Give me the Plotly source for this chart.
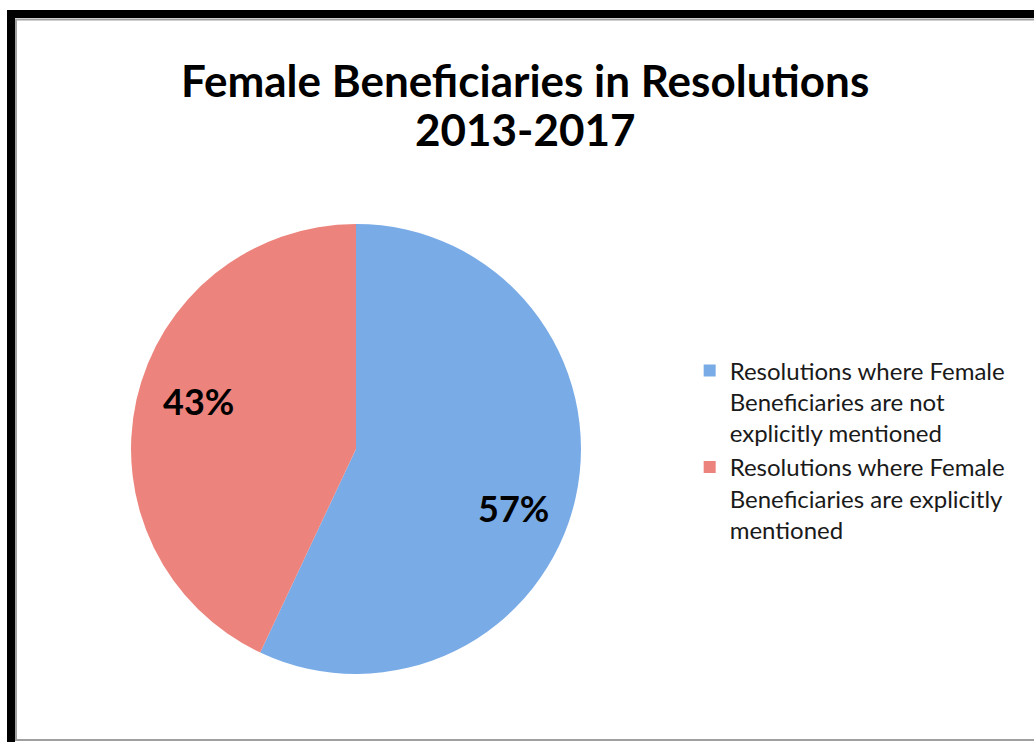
import plotly.graph_objects as go

# Share of resolutions, 2013-2017
categories = [
    "Resolutions where Female<br>Beneficiaries are not<br>explicitly mentioned",
    "Resolutions where Female<br>Beneficiaries are explicitly<br>mentioned",
]
shares = [57, 43]
slice_colors = ["#79abe7", "#ec837c"]
title_lines = ["Female Beneficiaries in Resolutions", "2013-2017"]

W, H = 1034, 742

fig = go.Figure()
fig.add_trace(go.Pie(
    labels=categories,
    values=shares,
    sort=False,
    direction="clockwise",
    rotation=0,
    marker=dict(colors=slice_colors, line=dict(width=0)),
    textinfo="none",
    hoverinfo="label+percent",
    domain=dict(x=[0.1267, 0.5619], y=[0.0918, 0.6982]),
    showlegend=True,
))

# Percentage labels placed inside each slice
label_pos = [(513, 508), (198, 401)]
for share, (px, py) in zip(shares, label_pos):
    fig.add_annotation(
        text=f"{share}%", x=px / W, y=1 - py / H, xref="paper", yref="paper",
        xanchor="center", yanchor="middle", showarrow=False,
        font=dict(family="Lato", size=36, color="black", weight="bold"),
    )

# Outer black frame and thin grey inner border
fig.add_shape(type="rect", xref="paper", yref="paper",
              x0=11 / W, x1=1.05, y0=-0.05, y1=1 - 14 / H,
              line=dict(color="black", width=8), fillcolor="rgba(0,0,0,0)")
fig.add_shape(type="rect", xref="paper", yref="paper",
              x0=16 / W, x1=1.05, y0=1 - 740 / H, y1=1 - 19.5 / H,
              line=dict(color="#a0a0a0", width=2), fillcolor="rgba(0,0,0,0)")

# Two-line title
for line, ty in zip(title_lines, [80, 129]):
    fig.add_annotation(
        text=line, x=525 / W, y=1 - ty / H, xref="paper", yref="paper",
        xanchor="center", yanchor="middle", showarrow=False,
        font=dict(family="Lato", size=44, color="black", weight="bold"),
    )

fig.update_layout(
    width=W, height=H,
    margin=dict(l=0, r=0, t=0, b=0),
    paper_bgcolor="white",
    plot_bgcolor="white",
    legend=dict(
        x=0.667, y=0.393, xanchor="left", yanchor="middle",
        font=dict(family="Lato", size=24, color="#1a1a1a"),
        valign="top", tracegroupgap=0,
        bgcolor="rgba(0,0,0,0)",
    ),
)

fig.write_html("out.html")
